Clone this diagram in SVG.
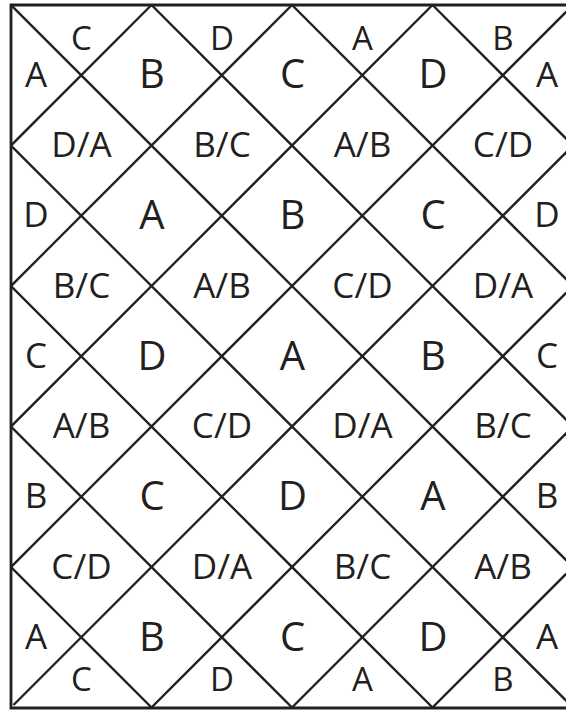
<svg xmlns="http://www.w3.org/2000/svg" width="566" height="710" viewBox="0 0 566 710">
<style>
.ln{stroke:#231f20;stroke-width:2.3;fill:none}
.bd{stroke:#231f20;stroke-width:2.8;fill:none}
text{font-family:"Open Sans","Noto Sans","Liberation Sans",sans-serif;fill:#231f20;text-anchor:middle}
.big{font-size:40px}
.mid{font-size:35px}
.sm{font-size:33px}
</style>
<defs>
<clipPath id="cp"><rect x="11" y="5" width="560" height="703"/></clipPath>
</defs>
<rect width="566" height="710" fill="#fff"/>
<g id="connectors" clip-path="url(#cp)">
<g class="ln">
<line x1="11" y1="5" x2="711" y2="705"/>
<line x1="151.5" y1="5" x2="851.5" y2="705"/>
<line x1="292" y1="5" x2="992" y2="705"/>
<line x1="432.5" y1="5" x2="1132.5" y2="705"/>
<line x1="11" y1="145.5" x2="711" y2="845.5"/>
<line x1="11" y1="286" x2="711" y2="986"/>
<line x1="11" y1="426.5" x2="711" y2="1126.5"/>
<line x1="11" y1="567" x2="711" y2="1267"/>
<line x1="151.5" y1="5" x2="-548.5" y2="705"/>
<line x1="292" y1="5" x2="-408" y2="705"/>
<line x1="432.5" y1="5" x2="-267.5" y2="705"/>
<line x1="573" y1="5" x2="-127" y2="705"/>
<line x1="713.5" y1="5" x2="13.5" y2="705"/>
<line x1="854" y1="5" x2="146" y2="713"/>
<line x1="994.5" y1="5" x2="286.5" y2="713"/>
<line x1="1135" y1="5" x2="427" y2="713"/>
<line x1="1275.5" y1="5" x2="567.5" y2="713"/>
</g>
</g>
<g id="border">
<polyline class="bd" points="566,5 11,5 11,708 566,708"/>
</g>
<g id="row0">
<text class="sm" x="81.5" y="50">C</text>
<text class="sm" x="222" y="50">D</text>
<text class="sm" x="362.5" y="50">A</text>
<text class="sm" x="503" y="50">B</text>
</g>
<g id="row1">
<text class="mid" x="36" y="86.5">A</text>
<text class="big" x="152" y="88.3">B</text>
<text class="big" x="292.5" y="88.3">C</text>
<text class="big" x="433" y="88.3">D</text>
<text class="mid" x="547" y="86.5">A</text>
</g>
<g id="row2">
<text class="mid" x="81.5" y="157">D/A</text>
<text class="mid" x="222" y="157">B/C</text>
<text class="mid" x="362.5" y="157">A/B</text>
<text class="mid" x="503" y="157">C/D</text>
</g>
<g id="row3">
<text class="mid" x="36" y="227">D</text>
<text class="big" x="152" y="229">A</text>
<text class="big" x="292.5" y="229">B</text>
<text class="big" x="433" y="229">C</text>
<text class="mid" x="547" y="227">D</text>
</g>
<g id="row4">
<text class="mid" x="81.5" y="297.5">B/C</text>
<text class="mid" x="222" y="297.5">A/B</text>
<text class="mid" x="362.5" y="297.5">C/D</text>
<text class="mid" x="503" y="297.5">D/A</text>
</g>
<g id="row5">
<text class="mid" x="36" y="367.7">C</text>
<text class="big" x="152" y="369.5">D</text>
<text class="big" x="292.5" y="369.5">A</text>
<text class="big" x="433" y="369.5">B</text>
<text class="mid" x="547" y="367.7">C</text>
</g>
<g id="row6">
<text class="mid" x="81.5" y="438">A/B</text>
<text class="mid" x="222" y="438">C/D</text>
<text class="mid" x="362.5" y="438">D/A</text>
<text class="mid" x="503" y="438">B/C</text>
</g>
<g id="row7">
<text class="mid" x="36" y="508">B</text>
<text class="big" x="152" y="510">C</text>
<text class="big" x="292.5" y="510">D</text>
<text class="big" x="433" y="510">A</text>
<text class="mid" x="547" y="508">B</text>
</g>
<g id="row8">
<text class="mid" x="81.5" y="578.5">C/D</text>
<text class="mid" x="222" y="578.5">D/A</text>
<text class="mid" x="362.5" y="578.5">B/C</text>
<text class="mid" x="503" y="578.5">A/B</text>
</g>
<g id="row9">
<text class="mid" x="36" y="648.7">A</text>
<text class="big" x="152" y="650.5">B</text>
<text class="big" x="292.5" y="650.5">C</text>
<text class="big" x="433" y="650.5">D</text>
<text class="mid" x="547" y="648.7">A</text>
</g>
<g id="row10">
<text class="sm" x="81.5" y="691">C</text>
<text class="sm" x="222" y="691">D</text>
<text class="sm" x="362.5" y="691">A</text>
<text class="sm" x="503" y="691">B</text>
</g>
</svg>
